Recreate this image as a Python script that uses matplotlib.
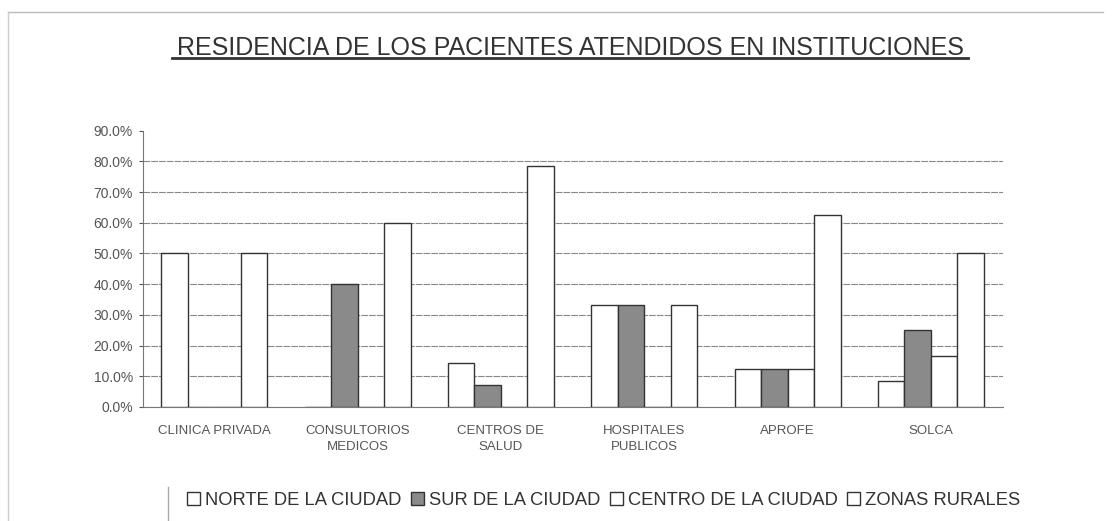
import matplotlib.pyplot as plt
import numpy as np
from matplotlib.lines import Line2D
from matplotlib.ticker import PercentFormatter

categories = ["CLINICA PRIVADA", "CONSULTORIOS\nMEDICOS", "CENTROS DE\nSALUD",
              "HOSPITALES\nPUBLICOS", "APROFE", "SOLCA"]
series_names = ["NORTE DE LA CIUDAD", "SUR DE LA CIUDAD",
                "CENTRO DE LA CIUDAD", "ZONAS RURALES"]
norte = [50.0, 0.0, 14.3, 33.3, 12.5, 8.3]
sur = [0.0, 40.0, 7.1, 33.3, 12.5, 25.0]
centro = [0.0, 0.0, 0.0, 0.0, 12.5, 16.7]
rurales = [50.0, 60.0, 78.6, 33.3, 62.5, 50.0]
y_ticks = [0, 10, 20, 30, 40, 50, 60, 70, 80, 90]

plt.rcParams["font.family"] = ["Liberation Sans", "DejaVu Sans"]

fig = plt.figure(figsize=(11.14, 5.21), dpi=100)
ax = fig.add_axes([0.128, 0.219, 0.772, 0.530])

x = np.arange(len(categories))
w = 0.185
faces = ["white", "#8a8a8a", "white", "white"]
for i, (vals, face) in enumerate(zip([norte, sur, centro, rurales], faces)):
    ax.bar(x + (i - 1.5) * w, vals, w, color=face, edgecolor="#333333",
           linewidth=1.0, label=series_names[i], zorder=3)

ax.set_xlim(-0.5, len(categories) - 0.5)
ax.set_ylim(0, 90)
ax.set_yticks(y_ticks)
ax.yaxis.set_major_formatter(PercentFormatter(decimals=1))
ax.set_xticks(x)
ax.set_xticklabels(categories, fontsize=9.5, color="#555555", linespacing=1.45)
ax.tick_params(axis="x", length=0, pad=13)
ax.tick_params(axis="y", labelsize=10, colors="#555555", length=3, pad=4)

ax.grid(axis="y", color="#888888", linestyle=(0, (6, 1)), linewidth=0.8, zorder=0)
ax.yaxis.get_gridlines()[-1].set_visible(False)
for side in ["top", "right"]:
    ax.spines[side].set_visible(False)
for side in ["left", "bottom"]:
    ax.spines[side].set_color("#777777")

fig.text(0.512, 0.907, "RESIDENCIA DE LOS PACIENTES ATENDIDOS EN INSTITUCIONES",
         ha="center", va="center", fontsize=18, color="#333333")
fig.add_artist(Line2D([0.154, 0.869], [0.889, 0.889], color="#333333", linewidth=2))

# outer chart frame (only top/left visible in the scan)
fig.add_artist(Line2D([0.007, 0.99], [0.977, 0.977], color="#bbbbbb", linewidth=1))
fig.add_artist(Line2D([0.007, 0.007], [0.0, 0.977], color="#cccccc", linewidth=1))
fig.add_artist(Line2D([0.151, 0.151], [0.0, 0.065], color="#aaaaaa", linewidth=1))

fig.legend(loc="center", bbox_to_anchor=(0.542, 0.04), ncol=4, frameon=False,
           fontsize=13.2, handlelength=0.7, handleheight=0.7, handletextpad=0.3,
           columnspacing=0.5, labelcolor="#333333")

plt.savefig("out.png", dpi=100)
